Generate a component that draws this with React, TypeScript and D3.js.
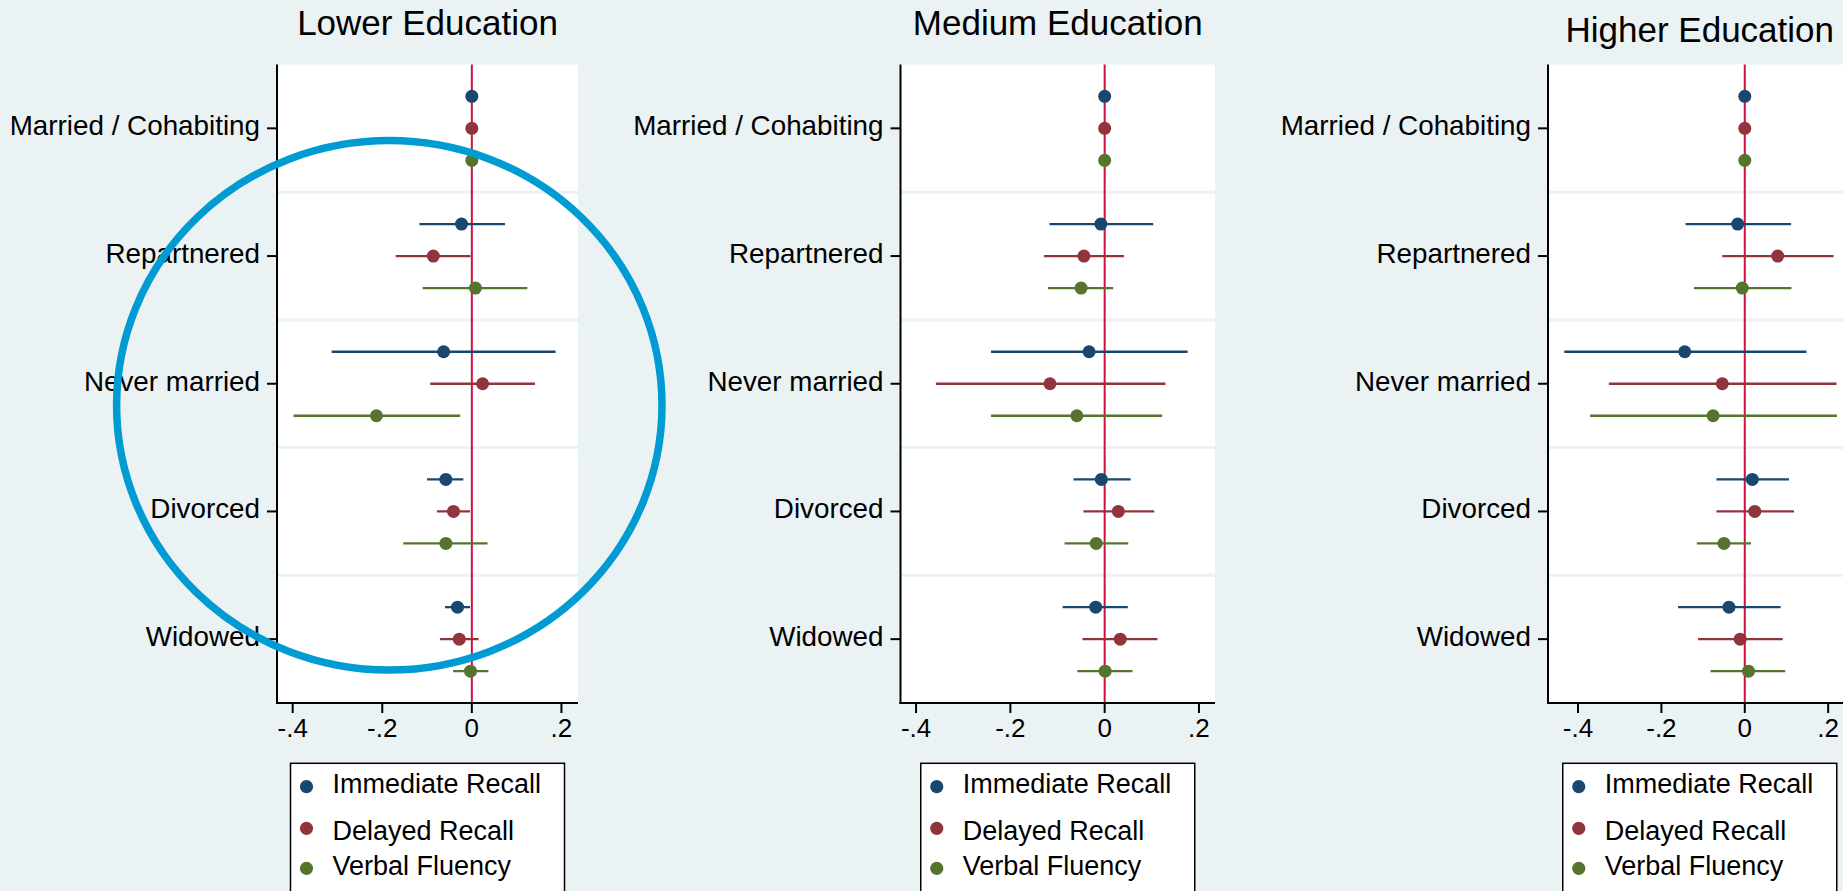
import React from "react";
import * as d3 from "d3";

// ---------- data ----------
const categories = ["Married / Cohabiting", "Repartnered", "Never married", "Divorced", "Widowed"];
const seriesNames = ["Immediate Recall", "Delayed Recall", "Verbal Fluency"];
const panelTitles = ["Lower Education", "Medium Education", "Higher Education"];
const xTicks = [-0.4, -0.2, 0, 0.2];

// each entry: [estimate, lower CI, upper CI], in category order
const lowerImmediate = [[0, 0, 0], [-0.023, -0.117, 0.074], [-0.063, -0.313, 0.187], [-0.058, -0.1, -0.019], [-0.032, -0.06, -0.004]];
const lowerDelayed = [[0, 0, 0], [-0.086, -0.17, -0.003], [0.024, -0.093, 0.141], [-0.041, -0.078, -0.004], [-0.028, -0.071, 0.015]];
const lowerVerbal = [[0, 0, 0], [0.008, -0.11, 0.124], [-0.213, -0.398, -0.026], [-0.058, -0.153, 0.035], [-0.003, -0.042, 0.037]];

const mediumImmediate = [[0, 0, 0], [-0.008, -0.117, 0.103], [-0.033, -0.241, 0.176], [-0.007, -0.066, 0.055], [-0.019, -0.089, 0.049]];
const mediumDelayed = [[0, 0, 0], [-0.044, -0.129, 0.041], [-0.116, -0.358, 0.129], [0.029, -0.045, 0.105], [0.033, -0.047, 0.112]];
const mediumVerbal = [[0, 0, 0], [-0.05, -0.12, 0.018], [-0.059, -0.241, 0.122], [-0.018, -0.085, 0.05], [0.001, -0.058, 0.059]];

const higherImmediate = [[0, 0, 0], [-0.017, -0.142, 0.111], [-0.144, -0.433, 0.148], [0.018, -0.068, 0.106], [-0.038, -0.16, 0.086]];
const higherDelayed = [[0, 0, 0], [0.079, -0.054, 0.213], [-0.054, -0.326, 0.22], [0.024, -0.068, 0.118], [-0.011, -0.112, 0.091]];
const higherVerbal = [[0, 0, 0], [-0.006, -0.122, 0.112], [-0.076, -0.371, 0.221], [-0.05, -0.115, 0.015], [0.009, -0.082, 0.097]];

const panelData = [
  [lowerImmediate, lowerDelayed, lowerVerbal],
  [mediumImmediate, mediumDelayed, mediumVerbal],
  [higherImmediate, higherDelayed, higherVerbal],
];
const panelDomains = [[-0.435, 0.237], [-0.433, 0.234], [-0.472, 0.256]];

// ---------- layout / style ----------
const W = 1843, H = 891;
const panelRanges = [[277, 578], [900.5, 1215], [1548, 1851.5]];
const titleBaselines = [35, 35, 41.5];
const plotTop = 64.5, plotBottom = 703;
const seriesColors = ["#1a476f", "#90353b", "#55752f"];
const bg = "#eaf2f3";
const refColor = "#d01140";
const font = "'Liberation Sans', Arial, sans-serif";
const legendTop = 763.3, legendW = 274;
const legendMarkerDy = [23.4, 65, 105];
const legendTextDy = [29.7, 76.7, 111.7];
const annot = { cx: 389.3, cy: 405.3, rx: 272.7, ry: 264.7 };

const yBand = d3.scaleBand().domain(categories).range([plotTop, plotBottom]).paddingInner(0).paddingOuter(0);
const yOffset = d3.scalePoint().domain(seriesNames).range([-32, 32]);
const tickLabel = (t: number) => (t === 0 ? "0" : String(t).replace("0.", "."));

function Panel({ idx }: { idx: number }) {
  const [x0, x1] = panelRanges[idx];
  const x = d3.scaleLinear().domain(panelDomains[idx]).range([x0, x1]);
  const cx = (x0 + x1) / 2;
  const bw = yBand.bandwidth();
  const yc = (c: string) => (yBand(c) as number) + bw / 2;
  return (
    <g>
      <rect x={x0} y={plotTop} width={x1 - x0} height={plotBottom - plotTop} fill="#ffffff" />
      {categories.slice(1).map((c) => (
        <line key={c} x1={x0} x2={x1} y1={yBand(c)} y2={yBand(c)} stroke={bg} strokeWidth={3} />
      ))}
      <line x1={x(0)} x2={x(0)} y1={plotTop} y2={plotBottom} stroke={refColor} strokeWidth={2} />
      {panelData[idx].map((ser, si) =>
        ser.map((d, ci) => {
          const y = yc(categories[ci]) + (yOffset(seriesNames[si]) as number);
          return (
            <g key={`${si}-${ci}`}>
              {d[1] !== d[2] && (
                <line x1={x(d[1])} x2={x(d[2])} y1={y} y2={y} stroke={seriesColors[si]} strokeWidth={2.3} />
              )}
              <circle cx={x(d[0])} cy={y} r={6.5} fill={seriesColors[si]} />
            </g>
          );
        })
      )}
      {/* axes */}
      <line x1={x0} x2={x0} y1={plotTop} y2={plotBottom + 1} stroke="#000" strokeWidth={2} />
      <line x1={x0 - 1} x2={x1} y1={plotBottom} y2={plotBottom} stroke="#000" strokeWidth={2} />
      {categories.map((c) => (
        <g key={c}>
          <line x1={x0 - 10} x2={x0} y1={yc(c)} y2={yc(c)} stroke="#000" strokeWidth={2} />
          <text x={x0 - 17} y={yc(c) + 7} textAnchor="end" fontSize={27.8} fontFamily={font} fill="#000">
            {c}
          </text>
        </g>
      ))}
      {xTicks.map((t) => (
        <g key={t}>
          <line x1={x(t)} x2={x(t)} y1={plotBottom} y2={plotBottom + 10} stroke="#000" strokeWidth={2} />
          <text x={x(t)} y={737} textAnchor="middle" fontSize={26} fontFamily={font} fill="#000">
            {tickLabel(t)}
          </text>
        </g>
      ))}
      <text x={cx} y={titleBaselines[idx]} textAnchor="middle" fontSize={35} fontFamily={font} fill="#000">
        {panelTitles[idx]}
      </text>
      {/* legend */}
      <rect x={cx - legendW / 2} y={legendTop} width={legendW} height={150} fill="#ffffff" stroke="#000" strokeWidth={1.5} />
      {seriesNames.map((s, si) => (
        <g key={s}>
          <circle cx={cx - legendW / 2 + 16} cy={legendTop + legendMarkerDy[si]} r={6.6} fill={seriesColors[si]} />
          <text x={cx - legendW / 2 + 42} y={legendTop + legendTextDy[si]} fontSize={27} fontFamily={font} fill="#000">
            {s}
          </text>
        </g>
      ))}
    </g>
  );
}

export default function App() {
  return (
    <svg width={W} height={H} style={{ position: "absolute", left: 0, top: 0, display: "block" }}>
      <rect x={0} y={0} width={W} height={H} fill={bg} />
      {panelTitles.map((_, i) => (
        <Panel key={i} idx={i} />
      ))}
      <ellipse cx={annot.cx} cy={annot.cy} rx={annot.rx} ry={annot.ry} fill="none" stroke="#009bd2" strokeWidth={7.5} />
    </svg>
  );
}
